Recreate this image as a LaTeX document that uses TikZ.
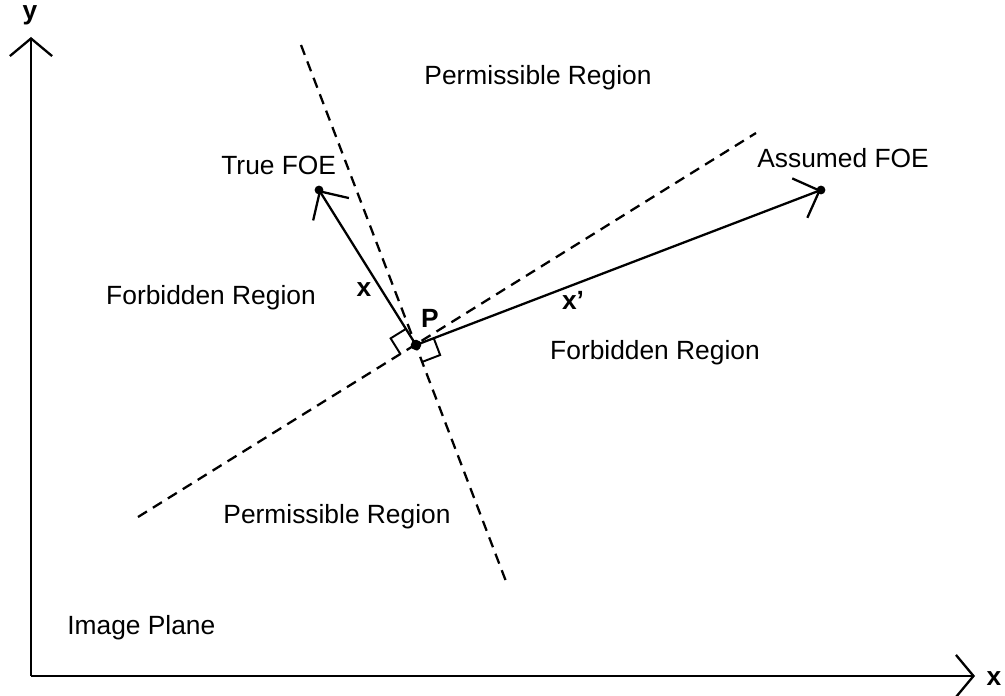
\documentclass[tikz,border=0pt]{standalone}
\usepackage{fontspec}
\setmainfont{Liberation Sans}
\usepackage{tikz}
\usetikzlibrary{arrows.meta, calc}

\begin{document}
\begin{tikzpicture}[
  x=0.02cm, y=-0.02cm,
  lbl/.style={font=\fontsize{15}{18}\selectfont, inner sep=0pt, anchor=base west},
  sym/.style={font=\fontsize{15}{18}\selectfont\bfseries},
  axis/.style={line width=1.3pt, -{Straight Barb[length=10pt,width=24pt,line width=1.3pt]}},
  vec/.style={line width=1.3pt, -{Straight Barb[length=12pt,width=24pt,line width=1.3pt]}},
  bound/.style={line width=1.3pt, dash pattern=on 6pt off 4pt},
  dot/.style={circle, fill=black, inner sep=0pt, minimum size=5pt},
  ra/.style={line width=1.1pt}
]
\useasboundingbox (0,0) rectangle (1005,696);
% axes
\coordinate (O) at (31,676);
\coordinate (ytip) at (31,37);
\coordinate (xtip) at (975,676);
\draw[axis] (O) -- (ytip);
\draw[axis] (O) -- (xtip);
\node[sym] (ylbl) at (30,15) {y};
\node[sym] (xlbl) at (994,679) {x};
% boundaries of the two half planes
\coordinate (b1s) at (301,45);
\coordinate (b1e) at (507,584);
\coordinate (b2s) at (138,517);
\coordinate (b2e) at (756,133);
\draw[bound] (b1s) -- (b1e);
\draw[bound] (b2s) -- (b2e);
% point and vectors
\node[dot, minimum size=6pt] (P) at (416,345) {};
\node[dot] (tfoe) at (319,190) {};
\node[dot] (afoe) at (821,190) {};
\draw[vec] (P.center) -- (tfoe.center);
\draw[vec] (P.center) -- (afoe.center);
% right angle marks
\draw[ra] ($(P)!0.38cm!(tfoe)$) -- ($(P)!0.38cm!(tfoe)+(P)!0.36cm!(b2s)-(P)$) -- ($(P)!0.36cm!(b2s)$);
\draw[ra] ($(P)!0.38cm!(afoe)$) -- ($(P)!0.38cm!(afoe)+(P)!0.36cm!(b1e)-(P)$) -- ($(P)!0.36cm!(b1e)$);
% labels
\node[lbl, anchor=center] (permT) at (538,78) {Permissible Region};
\node[lbl, anchor=center] (permB) at (337,517) {Permissible Region};
\node[lbl, anchor=center] (forbL) at (211,298) {Forbidden Region};
\node[lbl, anchor=center] (forbR) at (655,353) {Forbidden Region};
\node[lbl] (tlbl) at (221,174) {True FOE};
\node[lbl] (albl) at (757,168) {Assumed FOE};
\node[lbl] (ipl) at (67,634) {Image Plane};
\node[sym] (xv) at (364,290) {x};
\node[sym] (xpv) at (573,300) {x'};
\node[sym] (plbl) at (430,318) {P};
\end{tikzpicture}
\end{document}
